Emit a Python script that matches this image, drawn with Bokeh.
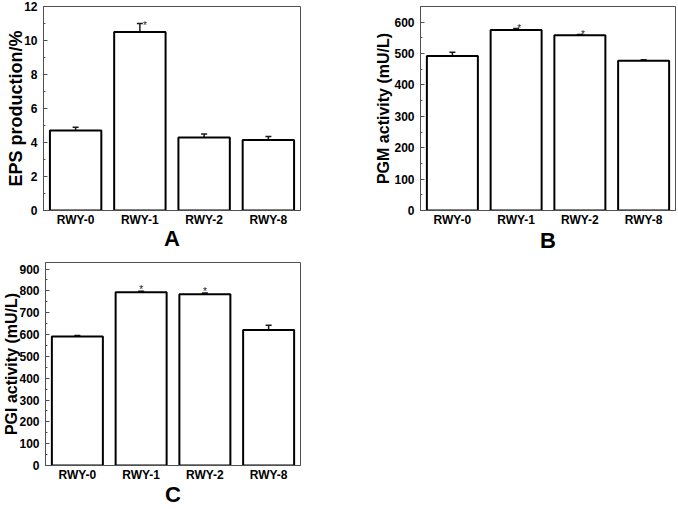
from bokeh.plotting import figure
from bokeh.models import FactorRange, Range1d, ColumnDataSource, Whisker, TeeHead, SingleIntervalTicker
from bokeh.layouts import column, row
from bokeh.embed import file_html
from bokeh.resources import INLINE
from bokeh.core.properties import value

# ---- data ----
strains = ["RWY-0", "RWY-1", "RWY-2", "RWY-8"]
eps_mean = [4.7, 10.5, 4.3, 4.15]
eps_err = [0.2, 0.5, 0.2, 0.2]
pgm_mean = [492, 575, 558, 477]
pgm_err = [12, 5, 3, 3]
pgi_mean = [591, 794, 785, 621]
pgi_err = [5, 4, 5, 22]
significance = ["", "*", "*", ""]
eps_significance = ["", "*", "", ""]

FONT = "Liberation Sans"
AXIS_COLOR = "#505050"


def panel(means, errs, sig, ymax, interval, ylabel, letter, width, height,
          mb_left, mb_right, mb_top, mb_bottom, ylabel_size, ylabel_standoff,
          letter_standoff, star_dx, star_dy):
    p = figure(x_range=FactorRange(*strains), y_range=Range1d(0, ymax),
               width=width, height=height, output_backend="svg",
               toolbar_location=None)
    p.min_border_left = mb_left
    p.min_border_right = mb_right
    p.min_border_top = mb_top
    p.min_border_bottom = mb_bottom
    p.background_fill_color = "white"
    p.border_fill_color = "white"
    p.outline_line_color = AXIS_COLOR
    p.outline_line_width = 1
    p.xgrid.visible = False
    p.ygrid.visible = False

    src = ColumnDataSource(dict(
        x=strains, top=means,
        up=[m + e for m, e in zip(means, errs)],
        lo=[m - e for m, e in zip(means, errs)],
        sig=sig))
    p.vbar(x="x", top="top", bottom=0, width=0.8, source=src,
           fill_color="white", line_color="black", line_width=2)
    w = Whisker(base="x", upper="up", lower="lo", source=src,
                line_color="#1a1a1a", line_width=1.5,
                upper_head=TeeHead(size=6, line_width=1.5, line_color="#1a1a1a"),
                lower_head=TeeHead(size=6, line_width=1.5, line_color="#1a1a1a"))
    p.add_layout(w)
    p.text(x="x", y="up", text="sig", source=src,
           text_font=value(FONT), text_font_size="10px", text_color="#222222",
           text_align="center", text_baseline="middle",
           x_offset=star_dx, y_offset=star_dy)

    p.yaxis.ticker = SingleIntervalTicker(interval=interval, num_minor_ticks=2)
    for ax in (p.xaxis[0], p.yaxis[0]):
        ax.axis_line_color = AXIS_COLOR
        ax.axis_line_width = 1
        ax.major_tick_line_color = AXIS_COLOR
        ax.minor_tick_line_color = AXIS_COLOR
        ax.major_label_text_font = FONT
        ax.major_label_text_font_style = "bold"
        ax.major_label_text_font_size = "12px"
        ax.major_label_text_color = "black"
        ax.axis_label_text_font = FONT
        ax.axis_label_text_font_style = "bold"
        ax.axis_label_text_color = "black"
    p.yaxis.major_tick_in = 4
    p.yaxis.major_tick_out = 0
    p.yaxis.minor_tick_in = 2
    p.yaxis.minor_tick_out = 0
    p.yaxis.major_label_standoff = 6
    p.yaxis.axis_label = ylabel
    p.yaxis.axis_label_text_font_size = ylabel_size
    p.yaxis.axis_label_standoff = ylabel_standoff
    p.xaxis.major_tick_in = 0
    p.xaxis.major_tick_out = 0
    p.xaxis.major_label_standoff = 2
    p.xaxis.axis_label = letter
    p.xaxis.axis_label_text_font_size = "22px"
    p.xaxis.axis_label_standoff = letter_standoff
    return p


pA = panel(eps_mean, eps_err, eps_significance, 12, 2, "EPS production/%", "A",
           340, 255, 43, 40, 6, 43, "18px", -5, -4, 5, 2)
pB = panel(pgm_mean, pgm_err, significance, 650, 100, "PGM activity (mU/L)", "B",
           338, 255, 80, 3, 6, 43, "16px", -1, -2, 3, 0)
pC = panel(pgi_mean, pgi_err, significance, 930, 100, "PGI activity (mU/L)", "C",
           340, 254, 43, 40, 7, 44, "16px", -4, -3, 0, -2)

layout = column(row(pA, pB), pC)
open("out.html", "w").write(file_html(layout, INLINE))
